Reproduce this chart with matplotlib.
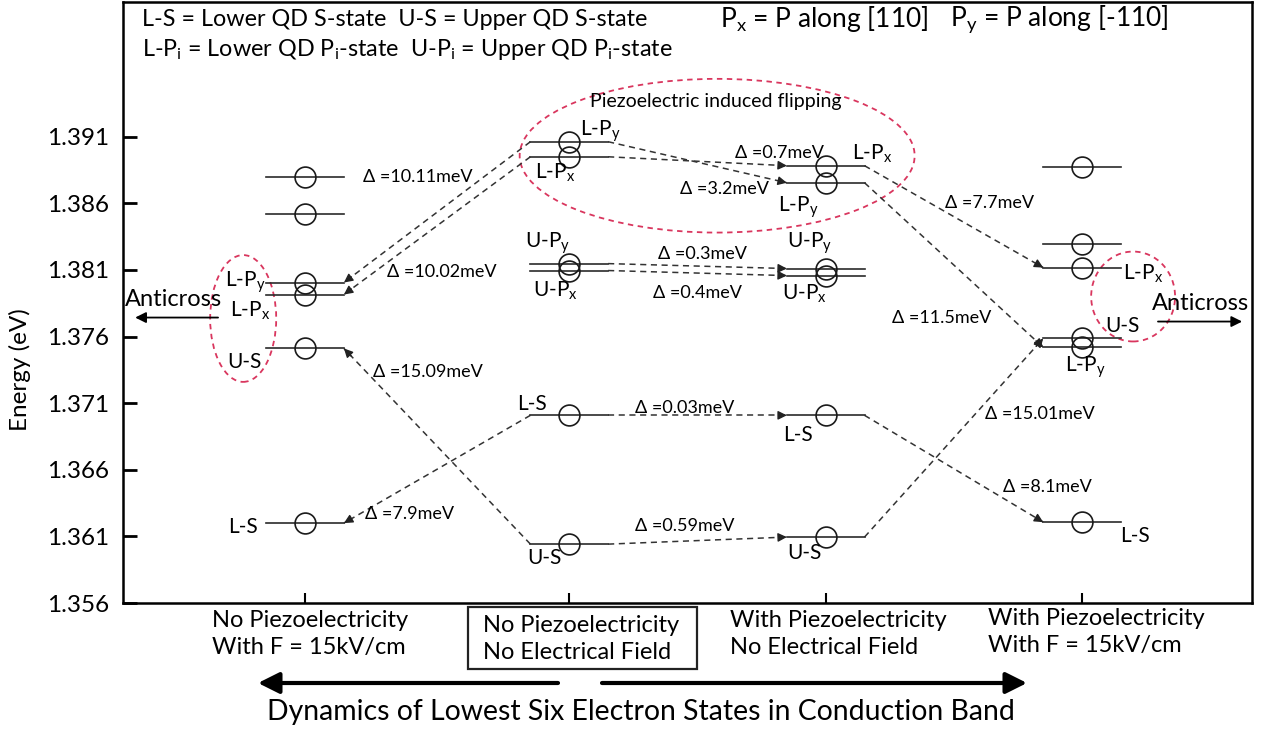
import matplotlib
matplotlib.use("Agg")
import matplotlib.pyplot as plt
from matplotlib.patches import Ellipse, Rectangle

plt.rcParams['font.family'] = ['Lato', 'DejaVu Sans']
plt.rcParams['mathtext.default'] = 'regular'

# ---------------- data ----------------
states = ["L-Py", "L-Px", "U-Py", "U-Px", "L-S", "U-S"]
state_text = {"L-Py": "L-P$_y$", "L-Px": "L-P$_x$", "U-Py": "U-P$_y$",
              "U-Px": "U-P$_x$", "L-S": "L-S", "U-S": "U-S"}

case_labels = ["No Piezoelectricity\nWith F = 15kV/cm",
               "No Piezoelectricity\nNo Electrical Field",
               "With Piezoelectricity\nNo Electrical Field",
               "With Piezoelectricity\nWith F = 15kV/cm"]
case_x = [0.0, 1.02, 2.01, 3.0]

# energies (eV), same order as states
e_nopiezo_field = [1.38006, 1.37916, 1.38800, 1.38523, 1.36200, 1.37511]
e_nopiezo = [1.39063, 1.38950, 1.38148, 1.38096, 1.37009, 1.36042]
e_piezo = [1.38755, 1.38883, 1.38111, 1.38058, 1.37009, 1.36095]
e_piezo_field = [1.37519, 1.38118, 1.38875, 1.38298, 1.36207, 1.37586]
energies = [e_nopiezo_field, e_nopiezo, e_piezo, e_piezo_field]

# transitions between cases
trans_from = [1, 1, 1, 1, 1, 1, 1, 1, 1, 1, 2, 2, 2, 2]
trans_to = [0, 0, 0, 0, 2, 2, 2, 2, 2, 2, 3, 3, 3, 3]
trans_state = ["L-Py", "L-Px", "U-S", "L-S",
               "L-Py", "L-Px", "U-Py", "U-Px", "L-S", "U-S",
               "L-Px", "L-Py", "U-S", "L-S"]
trans_delta = [10.11, 10.02, 15.09, 7.9,
               3.2, 0.7, 0.3, 0.4, 0.03, 0.59,
               7.7, 11.5, 15.01, 8.1]

# which states get a name next to them
shown_labels = [["L-Py", "L-Px", "U-S", "L-S"],
                states,
                states,
                ["L-Px", "U-S", "L-Py", "L-S"]]

# ---------------- layout ----------------
W, H = 1267, 733
fig = plt.figure(figsize=(W / 100, H / 100), dpi=100)
ax = fig.add_axes([123 / W, 1 - 603 / H, (1252 - 123) / W, (603 - 2) / H])
ax.set_xlim(-0.703, 3.656)
ax.set_ylim(1.356, 1.40112)

half = 0.15
lvl_color = '#2a2a2a'
for ci, xc in enumerate(case_x):
    for s, e in zip(states, energies[ci]):
        ax.plot([xc - half, xc + half], [e, e], color=lvl_color, lw=1.2, zorder=3)
        ax.plot([xc], [e], marker='o', ms=15, mfc='none', mec='#1a1a1a', mew=1.2, zorder=4)

# state labels: (case, state) -> x, y, ha
label_pos = {
    (0, "L-Py"): (-0.151, 1.38006, 'right'), (0, "L-Px"): (-0.135, 1.37796, 'right'),
    (0, "U-S"): (-0.166, 1.37406, 'right'), (0, "L-S"): (-0.181, 1.36170, 'right'),
    (1, "L-Py"): (1.062, 1.39145, 'left'), (1, "L-Px"): (0.888, 1.38830, 'left'),
    (1, "U-Py"): (0.849, 1.38298, 'left'), (1, "U-Px"): (0.880, 1.37946, 'left'),
    (1, "L-S"): (0.819, 1.37091, 'left'), (1, "U-S"): (0.857, 1.35937, 'left'),
    (2, "L-Px"): (2.112, 1.38973, 'left'), (2, "L-Py"): (1.826, 1.38568, 'left'),
    (2, "U-Py"): (1.861, 1.38298, 'left'), (2, "U-Px"): (1.842, 1.37923, 'left'),
    (2, "L-S"): (1.846, 1.36859, 'left'), (2, "U-S"): (1.861, 1.35975, 'left'),
    (3, "L-Px"): (3.158, 1.38073, 'left'), (3, "U-S"): (3.089, 1.37676, 'left'),
    (3, "L-Py"): (2.934, 1.37369, 'left'), (3, "L-S"): (3.147, 1.36102, 'left'),
}
for ci, names in enumerate(shown_labels):
    for s in names:
        lx, ly, ha = label_pos[(ci, s)]
        ax.text(lx, ly, state_text[s], fontsize=15, ha=ha, va='center', zorder=5)

# transition arrows
delta_pos = [(0.224, 1.38800), (0.317, 1.38088), (0.263, 1.37331), (0.232, 1.36267),
             (1.448, 1.38710), (1.660, 1.38980), (1.363, 1.38223), (1.344, 1.37931),
             (1.274, 1.37061), (1.274, 1.36177),
             (2.471, 1.38605), (2.266, 1.37743), (2.625, 1.37016), (2.695, 1.36469)]
for a, b, s, d, (tx, ty) in zip(trans_from, trans_to, trans_state, trans_delta, delta_pos):
    k = states.index(s)
    sign = 1 if b > a else -1
    x0 = case_x[a] + sign * half
    x1 = case_x[b] - sign * half
    y0 = energies[a][k]
    y1 = energies[b][k]
    ax.plot([x0, x1], [y0, y1], color='#333333', lw=1.1, ls=(0, (4, 3)), zorder=2)
    xm = x0 + 0.96 * (x1 - x0)
    ym = y0 + 0.96 * (y1 - y0)
    ax.annotate('', xy=(x1, y1), xytext=(xm, ym),
                arrowprops=dict(arrowstyle='-|>', color='#222222', lw=1.0,
                                mutation_scale=13, shrinkA=0, shrinkB=0), zorder=3)
    ax.text(tx, ty, "\u0394 =%smeV" % format(d, 'g'), fontsize=13, ha='left', va='center')

# red dashed ellipses
red = '#d9365e'
for (cx, cy, w, h) in [(-0.239, 1.37736, 0.255, 0.00952),
                       (1.591, 1.38958, 1.525, 0.01154),
                       (3.197, 1.37901, 0.324, 0.00675)]:
    ax.add_patch(Ellipse((cx, cy), w, h, fill=False, ec=red, lw=1.3,
                         ls=(0, (3, 2.5)), zorder=1))
ax.text(1.585, 1.39362, "Piezoelectric induced flipping", fontsize=14,
        ha='center', va='center')

# anticross arrows
ax.annotate('', xy=(-0.656, 1.37743), xytext=(-0.336, 1.37743),
            arrowprops=dict(arrowstyle='-|>', color='k', lw=1.3, mutation_scale=16,
                            shrinkA=0, shrinkB=0))
ax.text(-0.695, 1.37878, "Anticross", fontsize=17, ha='left', va='center')
ax.annotate('', xy=(3.618, 1.37713), xytext=(3.293, 1.37713),
            arrowprops=dict(arrowstyle='-|>', color='k', lw=1.3, mutation_scale=16,
                            shrinkA=0, shrinkB=0))
ax.text(3.27, 1.37848, "Anticross", fontsize=17, ha='left', va='center')

# axes styling
yt = [1.356, 1.361, 1.366, 1.371, 1.376, 1.381, 1.386, 1.391]
ax.set_yticks(yt)
ax.set_yticklabels(["%.3f" % v for v in yt])
ax.set_xticks(case_x)
ax.set_xticklabels([])
ax.tick_params(axis='y', direction='in', length=10, width=2, labelsize=17.5, pad=10)
ax.tick_params(axis='x', direction='in', length=7, width=1.5)
for sp in ax.spines.values():
    sp.set_linewidth(1.8)

fig.text(20 / W, 1 - 370 / H, "Energy (eV)", rotation=90, fontsize=17.5,
         ha='center', va='center')

# header
fig.text(142 / W, 1 - 20 / H, "L-S = Lower QD S-state  U-S = Upper QD S-state",
         fontsize=16.8, ha='left', va='center')
fig.text(142 / W, 1 - 50 / H, "L-P$_i$ = Lower QD P$_i$-state  U-P$_i$ = Upper QD P$_i$-state",
         fontsize=16.8, ha='left', va='center')
fig.text(720 / W, 1 - 19 / H, "P$_x$ = P along [110]", fontsize=19, ha='left', va='center')
fig.text(950 / W, 1 - 19 / H, "P$_y$ = P along [-110]", fontsize=19, ha='left', va='center')

# case labels under the axis
case_left = [212, 483, 730, 988]
case_y = [634, 639, 634, 632]
for lbl, lx, ly in zip(case_labels, case_left, case_y):
    fig.text(lx / W, 1 - ly / H, lbl, fontsize=17, ha='left', va='center', linespacing=1.35)
fig.patches.append(Rectangle((468 / W, 1 - 669 / H), 229 / W, 62 / H, fill=False,
                             ec='#222222', lw=1.6, transform=fig.transFigure))

# big arrows and title
fig_arrow = dict(arrowstyle='-|>', color='k', lw=3, mutation_scale=32, shrinkA=0, shrinkB=0)
ax.annotate('', xy=(258 / W, 1 - 683 / H), xytext=(558 / W, 1 - 683 / H),
            xycoords='figure fraction', textcoords='figure fraction', arrowprops=fig_arrow)
ax.annotate('', xy=(1027 / W, 1 - 683 / H), xytext=(602 / W, 1 - 683 / H),
            xycoords='figure fraction', textcoords='figure fraction', arrowprops=fig_arrow)
fig.text(641 / W, 1 - 712 / H, "Dynamics of Lowest Six Electron States in Conduction Band",
         fontsize=20.4, ha='center', va='center')

fig.savefig("out.png", dpi=100)
